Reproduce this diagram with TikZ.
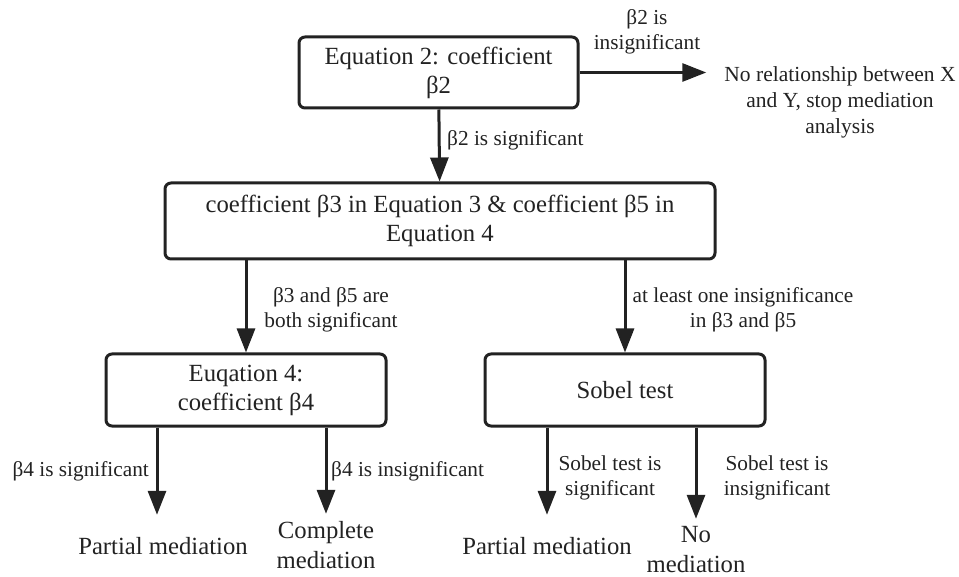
\documentclass[tikz,border=0pt]{standalone}
\usepackage{fontspec}
\setmainfont{Liberation Serif}
\usetikzlibrary{arrows.meta}
\definecolor{ink}{RGB}{34,34,34}

\begin{document}
\begin{tikzpicture}[x=1pt,y=1pt,yscale=-1,
  box/.style={draw=ink, line width=3pt, rounded corners=6pt, align=center, text=ink, inner sep=0pt, font=\fontsize{24.7}{29}\selectfont},
  lab/.style={text=ink, align=center, inner sep=0pt, font=\fontsize{21.3}{25}\selectfont},
  res/.style={text=ink, align=center, inner sep=0pt, minimum height=62pt, font=\fontsize{24.7}{30}\selectfont},
  arr/.style={draw=ink, line width=3pt, -{Triangle[length=24pt,width=18pt]}}]
%set diagram size to 959 x 577
\useasboundingbox (0,0) rectangle (959,577);

%Shape: Rounded boxes
\node (eq2) [box, minimum width=279pt, minimum height=71pt] at (438.5,72.5) {Equation 2: coefficient\\β2};
\node (eq35) [box, minimum width=550pt, minimum height=76pt] at (440,221) {coefficient β3 in Equation 3 \& coefficient β5 in\\Equation 4};
\node (eq4) [box, minimum width=280pt, minimum height=72pt] at (246,390) {Euqation 4:\\coefficient β4};
\node (sobel) [box, minimum width=280pt, minimum height=72pt] at (625,390) {Sobel test};

% Text Node
\node (stop) [lab, font=\fontsize{21.5}{26}\selectfont] at (840,102) {No relationship between X\\and Y, stop mediation\\analysis};
% Text Node
\node (pm1) [res] at (163,546) {Partial mediation};
\node (cm) [res] at (326,545) {Complete\\mediation};
\node (pm2) [res] at (547,546) {Partial mediation};
\node (nm) [res] at (696,550) {No\\mediation};

%Straight Lines
\draw [arr] (eq2.east) -- ([xshift=-18pt]eq2.east -| stop.west);
\draw [arr] (eq2) -- (eq35);
\draw [arr] (eq35.south -| eq4) -- (eq4);
\draw [arr] (eq35.south -| sobel) -- (sobel);
\draw [arr] ([xshift=-89pt]eq4.south) -- ([xshift=-89pt]eq4.south |- pm1.north);
\draw [arr] ([xshift=80pt]eq4.south) -- ([xshift=80pt]eq4.south |- cm.north);
\draw [arr] (sobel.south -| pm2) -- (pm2);
\draw [arr] (sobel.south -| nm) -- (nm);

% Text Node
\node (l1) [lab] at (647,32) {β2 is\\insignificant};
\node (l2) [lab, anchor=west] at (447,140) {β2 is significant};
\node (l3) [lab] at (331,310) {β3 and β5 are\\both significant};
\node (l4) [lab] at (743,310) {at least one insignificance\\in β3 and β5};
\node (l5) [lab, anchor=east] at (149,471) {β4 is significant};
\node (l6) [lab, anchor=west] at (331,471) {β4 is insignificant};
\node (l7) [lab] at (610,478) {Sobel test is\\significant};
\node (l8) [lab] at (777,478) {Sobel test is\\insignificant};

\end{tikzpicture}
\end{document}
